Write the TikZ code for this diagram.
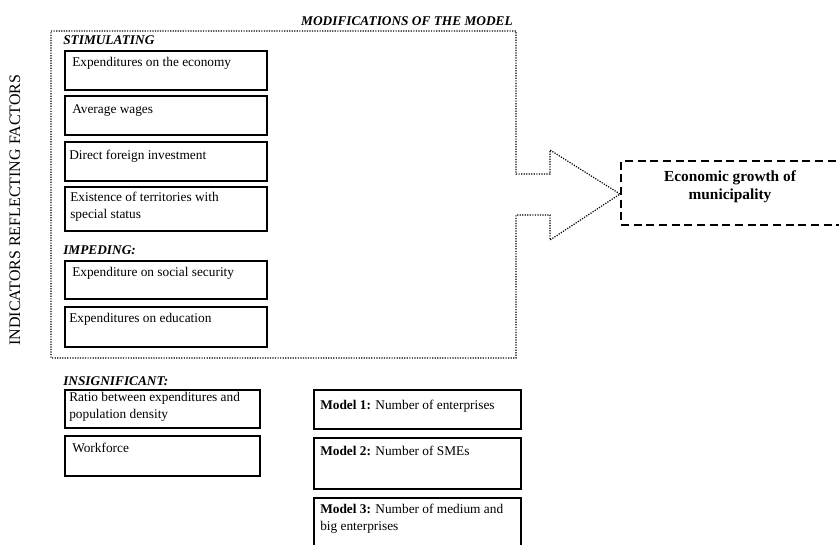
\documentclass[tikz,border=0pt]{standalone}
\usepackage{fontspec}
\setmainfont{Liberation Serif}
\begin{document}
\begin{tikzpicture}[x=0.75pt,y=-0.75pt,
  factorbox/.style={draw=black, line width=1.4pt, rectangle, inner sep=0pt, anchor=north west},
  boxtext/.style={anchor=base west, inner sep=0pt, align=left, font=\fontsize{10}{12.5}\selectfont},
  grouplabel/.style={anchor=base west, inner sep=0pt, font=\fontsize{10}{12}\selectfont\bfseries\itshape},
  dottedline/.style={line width=0.9pt, dash pattern=on 0.9pt off 1.0pt},
  dashedbox/.style={draw=black, line width=1.4pt, dash pattern=on 6pt off 3.5pt, rectangle, inner sep=0pt, anchor=north west}
]
\useasboundingbox (0,0) rectangle (839,544);

% vertical caption
\node[rotate=90, inner sep=0pt, font=\fontsize{12}{14}\selectfont] (side) at (15,210) {INDICATORS REFLECTING FACTORS};

% title
\node[grouplabel, anchor=base east] (title) at (513,25) {MODIFICATIONS OF THE MODEL};

% dotted outline with arrow
\coordinate (p0) at (51,31);
\coordinate (p1) at (516,31);
\coordinate (p2) at (516,174);
\coordinate (p3) at (550,174);
\coordinate (p4) at (550,150);
\coordinate (tip) at (620,194);
\coordinate (p6) at (550,240);
\coordinate (p7) at (550,215);
\coordinate (p8) at (516,215);
\coordinate (p9) at (516,358);
\coordinate (p10) at (51,358);
\draw[dottedline] (p0) -- (p1) -- (p2) -- (p3) -- (p4) -- (tip) -- (p6) -- (p7) -- (p8) -- (p9) -- (p10) -- cycle;

% economic growth box
\node[dashedbox, minimum width=240*0.75pt, minimum height=64*0.75pt] (econ) at (620,160) {};
\node[align=center, inner sep=0pt, font=\fontsize{11.5}{13.5}\selectfont\bfseries] (econtext) at (730,187) {Economic growth of\\municipality};

% stimulating
\node[grouplabel] (stim) at (63,44) {STIMULATING};
\node[factorbox, minimum width=202*0.75pt, minimum height=39*0.75pt] (b1) at (64,50) {};
\node[boxtext] (t1) at (72,66) {Expenditures on the economy};
\node[factorbox, minimum width=202*0.75pt, minimum height=39*0.75pt] (b2) at (64,95) {};
\node[boxtext] (t2) at (72,113) {Average wages};
\node[factorbox, minimum width=202*0.75pt, minimum height=39*0.75pt] (b3) at (64,141) {};
\node[boxtext] (t3) at (69,159) {Direct foreign investment};
\node[factorbox, minimum width=202*0.75pt, minimum height=44*0.75pt] (b4) at (64,186) {};
\node[boxtext] (t4) at (70,218.5) {Existence of territories with\\special status};

% impeding
\node[grouplabel] (imp) at (63,254) {IMPEDING:};
\node[factorbox, minimum width=202*0.75pt, minimum height=38*0.75pt] (b5) at (64,260) {};
\node[boxtext] (t5) at (72,276) {Expenditure on social security};
\node[factorbox, minimum width=202*0.75pt, minimum height=40*0.75pt] (b6) at (64,306) {};
\node[boxtext] (t6) at (69,322) {Expenditures on education};

% insignificant
\node[grouplabel] (insig) at (63,385) {INSIGNIFICANT:};
\node[factorbox, minimum width=195*0.75pt, minimum height=38*0.75pt] (b7) at (64,389) {};
\node[boxtext] (t7) at (69,418) {Ratio between expenditures and\\population density};
\node[factorbox, minimum width=195*0.75pt, minimum height=40*0.75pt] (b8) at (64,435) {};
\node[boxtext] (t8) at (72,452) {Workforce};

% models
\node[factorbox, minimum width=207*0.75pt, minimum height=39*0.75pt] (m1) at (313,389) {};
\node[boxtext] (tm1) at (320,409) {\textbf{Model 1:} Number of enterprises};
\node[factorbox, minimum width=207*0.75pt, minimum height=51*0.75pt] (m2) at (313,437) {};
\node[boxtext] (tm2) at (320,455) {\textbf{Model 2:} Number of SMEs};
\node[factorbox, minimum width=207*0.75pt, minimum height=60*0.75pt] (m3) at (313,497) {};
\node[boxtext] (tm3) at (320,530.5) {\textbf{Model 3:} Number of medium and\\big enterprises};
\end{tikzpicture}
\end{document}
